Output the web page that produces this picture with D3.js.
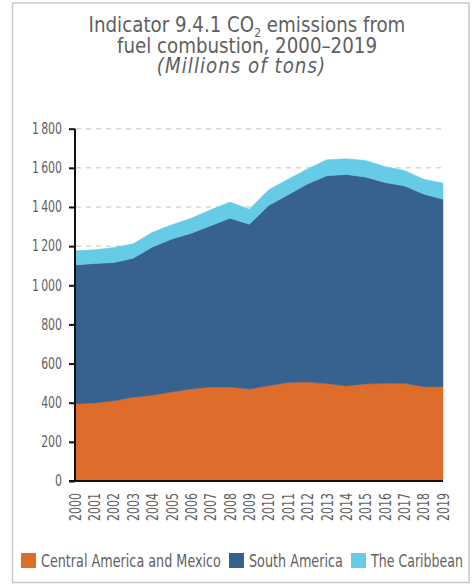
<!DOCTYPE html>
<html><head><meta charset="utf-8">
<script src="https://cdn.jsdelivr.net/npm/d3@7"></script>
<style>
html,body{margin:0;padding:0;background:#fff;}
svg{display:block;}
text{font-family:"DejaVu Sans Condensed","DejaVu Sans",sans-serif;font-stretch:condensed;fill:#5f5f5f;}
</style></head>
<body>
<svg id="chart" width="473" height="584"></svg>
<script>
const years = ["2000","2001","2002","2003","2004","2005","2006","2007","2008","2009","2010","2011","2012","2013","2014","2015","2016","2017","2018","2019"];
const seriesNames = ["Central America and Mexico","South America","The Caribbean"];
const centralAmerica = [394,399,410,428,438,455,470,480,480,470,487,503,506,498,486,496,499,499,482,482];
const southAmerica   = [710,712,706,710,758,781,796,824,863,842,921,959,1012,1061,1080,1057,1026,1009,984,958];
const caribbean      = [72,70,77,74,75,73,77,82,82,77,80,80,76,82,80,85,82,79,76,82];
const yTicks = [0,200,400,600,800,1000,1200,1400,1600,1800];
const yTickLabels = ["0","200","400","600","800","1\u2009000","1\u2009200","1\u2009400","1\u2009600","1\u2009800"];
const colors = ["#de6c2a","#37618f","#66cbe6"];

const svg = d3.select("#chart");

function fitX(sel, target, ax, ay){
  const w = sel.node().getBBox().width;
  const s = target / w;
  sel.attr("transform", `translate(${ax},${ay||0}) scale(${s},1) translate(${-ax},${-(ay||0)})`);
  return s;
}

// frame
svg.append("rect").attr("x",12.5).attr("y",3).attr("width",456.5).attr("height",579.5)
  .attr("fill","none").attr("stroke","#c9c9c9").attr("stroke-width",1.5);

// title (one text element, three lines)
const tx = 247;
const title = svg.append("text").attr("text-anchor","middle").attr("font-size",22).attr("fill","#666");
const l1 = title.append("tspan").attr("x",tx).attr("y",32);
l1.append("tspan").text("Indicator 9.4.1 CO");
l1.append("tspan").attr("font-size",13).attr("dy",5).text("2");
l1.append("tspan").attr("dy",-5).text(" emissions from");
title.append("tspan").attr("x",tx).attr("y",53).text("fuel combustion, 2000\u20132019");
title.append("tspan").attr("x",tx-6).attr("y",73).style("font-style","italic").attr("letter-spacing",1.1).text("(Millions of tons)");
fitX(title, 317, tx);

const x = d3.scalePoint().domain(years).range([75,443]);
const y = d3.scaleLinear().domain([0,1800]).range([481,128.7]);

// gridlines
svg.append("g").selectAll("line").data(yTicks.filter(d=>d>0)).join("line")
  .attr("x1",76).attr("x2",443).attr("y1",d=>y(d)).attr("y2",d=>y(d))
  .attr("stroke","#d6d6d6").attr("stroke-width",1.5).attr("stroke-dasharray","5,5");

// stacked areas
const table = years.map((yr,i)=>({year:yr, a:centralAmerica[i], b:southAmerica[i], c:caribbean[i]}));
const stack = d3.stack().keys(["a","b","c"]);
const layers = stack(table);
const area = d3.area().x(d=>x(d.data.year)).y0(d=>y(d[0])).y1(d=>y(d[1]));
svg.append("g").selectAll("path").data(layers).join("path")
  .attr("d",area).attr("fill",(d,i)=>colors[i]).attr("stroke",(d,i)=>colors[i]).attr("stroke-width",0.5);

// y axis
const yAxis = d3.axisLeft(y).tickValues(yTicks).tickFormat((d,i)=>yTickLabels[i]).tickSize(6).tickPadding(7);
const ga = svg.append("g").attr("transform","translate(75,0)").call(yAxis);
ga.select(".domain").attr("stroke","#111").attr("stroke-width",2).attr("d","M0,"+y(1800)+"V"+y(0));
ga.selectAll(".tick line").attr("stroke","#111").attr("stroke-width",2);
const yTexts = ga.selectAll(".tick text").attr("font-size",15).attr("fill","#5f5f5f")
  .style("font-family",null);
const yRef = yTexts.filter((d)=>d===1800).node().getBBox().width;
const ys = 30 / yRef;
yTexts.attr("transform",`translate(-13,0) scale(${ys},1)`).attr("x",0);

// x axis
const xAxis = d3.axisBottom(x).tickSize(0).tickPadding(0);
const gx = svg.append("g").attr("transform","translate(0,481)").call(xAxis);
gx.select(".domain").attr("stroke","#111").attr("stroke-width",2.2).attr("d","M69,0H443");
const xTexts = gx.selectAll(".tick text").attr("font-size",15).attr("fill","#5f5f5f")
  .attr("text-anchor","end").attr("x",0).attr("y",0).attr("dy","0.35em");
const xRef = xTexts.node().getBBox().width;
const xs = 28 / xRef;
xTexts.attr("transform",`rotate(-90) translate(-12,0) scale(${xs},1)`);

// legend
const legendX = [21,229,351];
const legendW = [180,94,93];
const lg = svg.append("g").selectAll("g").data(seriesNames).join("g")
  .attr("transform",(d,i)=>`translate(${legendX[i]},553)`);
lg.append("rect").attr("width",15).attr("height",15).attr("fill",(d,i)=>colors[i]);
lg.append("text").attr("x",20).attr("y",14).attr("font-size",17).text(d=>d)
  .each(function(d,i){ fitX(d3.select(this), legendW[i], 20, 0); });
</script>
</body></html>
